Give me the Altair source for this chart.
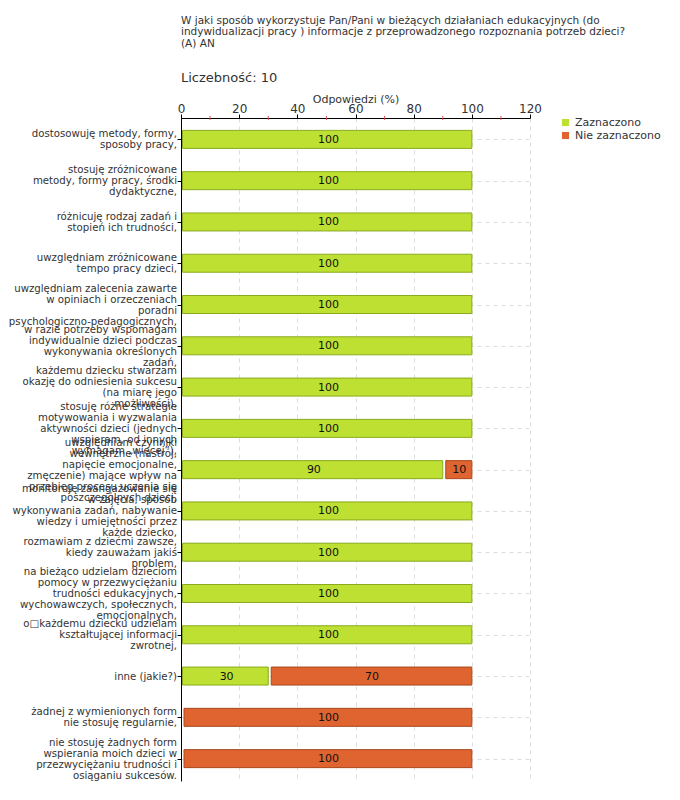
import altair as alt
import pandas as pd

categories = [
    "dostosowuję metody, formy,|sposoby pracy,",
    "stosuję zróżnicowane|metody, formy pracy, środki|dydaktyczne,",
    "różnicuję rodzaj zadań i|stopień ich trudności,",
    "uwzględniam zróżnicowane|tempo pracy dzieci,",
    "uwzględniam zalecenia zawarte|w opiniach i orzeczeniach|poradni|psychologiczno-pedagogicznych,",
    "w razie potrzeby wspomagam|indywidualnie dzieci podczas|wykonywania określonych|zadań,",
    "każdemu dziecku stwarzam|okazję do odniesienia sukcesu|(na miarę jego|możliwości),",
    "stosuję różne strategie|motywowania i wyzwalania|aktywności dzieci (jednych|wspieram, od innych|wymagam „więcej”),",
    "uwzględniam czynniki|wewnętrzne (nastrój,|napięcie emocjonalne,|zmęczenie) mające wpływ na|przebieg procesu uczenia się|poszczególnych dzieci,",
    "monitoruję zaangażowanie się|w zajęcia, sposób|wykonywania zadań, nabywanie|wiedzy i umiejętności przez|każde dziecko,",
    "rozmawiam z dziećmi zawsze,|kiedy zauważam jakiś|problem,",
    "na bieżąco udzielam dzieciom|pomocy w przezwyciężaniu|trudności edukacyjnych,|wychowawczych, społecznych,|emocjonalnych,",
    "o\u25a1każdemu dziecku udzielam|kształtującej informacji|zwrotnej,",
    "inne (jakie?)",
    "żadnej z wymienionych form|nie stosuję regularnie,",
    "nie stosuję żadnych form|wspierania moich dzieci w|przezwyciężaniu trudności i|osiąganiu sukcesów.",
]
zaznaczono = [100, 100, 100, 100, 100, 100, 100, 100, 90, 100, 100, 100, 100, 30, 0, 0]
nie_zaznaczono = [0, 0, 0, 0, 0, 0, 0, 0, 10, 0, 0, 0, 0, 70, 100, 100]
series = ["Zaznaczono", "Nie zaznaczono"]
colors = ["#bde032", "#e0642f"]
strokes = ["#8aab1e", "#a9481c"]
x_ticks = [0, 20, 40, 60, 80, 100, 120]
minor_ticks = [10, 30, 50, 70, 90, 110]

rows = []
for c, z, n in zip(categories, zaznaczono, nie_zaznaczono):
    if z > 0:
        rows.append({"cat": c, "series": series[0], "value": z, "start": 0, "end": z})
    if n > 0:
        rows.append({"cat": c, "series": series[1], "value": n, "start": z, "end": z + n})
df = pd.DataFrame(rows)
minor_df = pd.DataFrame({"m": minor_ticks})

line_rows = []
for c in categories:
    parts = c.split("|")
    k = len(parts)
    for i, p in enumerate(parts):
        line_rows.append({"cat": c, "line": p, "off": i - (k - 1) / 2})
lines_df = pd.DataFrame(line_rows)

LH = 11
xscale = alt.Scale(domain=[0, 120], nice=False, zero=True)
yscale = alt.Scale(domain=categories, paddingInner=0.54, paddingOuter=0.3)
cscale = alt.Scale(domain=series, range=colors)

base = alt.Chart(df)

y_enc = alt.Y("cat:N", sort=None, scale=yscale, axis=alt.Axis(
    title=None, labels=False, tickSize=4, tickColor="#000000",
    domainColor="#000000", grid=True, gridDash=[4, 4], gridColor="#dddddd"))

x_enc = alt.X("start:Q", scale=xscale, axis=alt.Axis(
    orient="top", values=x_ticks, title="Odpowiedzi (%)", titleFontWeight="normal",
    titleFontSize=11, titleColor="#333333", titleFont="DejaVu Sans", titlePadding=-2,
    labelFontSize=12, labelColor="#333333", labelFont="DejaVu Sans", tickSize=4,
    labelPadding=-1, tickColor="#000000", domainColor="#000000", grid=True,
    gridDash=[4, 4], gridColor="#dddddd", labelFlush=False))

legend = alt.Legend(title=None, orient="none", legendX=379, legendY=-1,
                    symbolType="square", symbolSize=50, labelFontSize=11,
                    labelColor="#333333", labelFont="DejaVu Sans", rowPadding=1,
                    symbolStrokeWidth=0)

green = base.transform_filter(alt.datum.series == series[0]).mark_bar(
    stroke=strokes[0], strokeWidth=1, xOffset=1.5
).encode(
    y=y_enc, x=x_enc, x2="end:Q",
    color=alt.Color("series:N", scale=cscale, legend=legend),
)
orange = base.transform_filter(alt.datum.series == series[1]).mark_bar(
    stroke=strokes[1], strokeWidth=1, xOffset=3
).encode(
    y=alt.Y("cat:N", sort=None, scale=yscale), x=alt.X("start:Q", scale=xscale),
    x2="end:Q",
    color=alt.Color("series:N", scale=cscale, legend=legend),
)
labels = base.transform_calculate(mid="(datum.start + datum.end) / 2").mark_text(
    fontSize=11, font="DejaVu Sans", color="#111111", baseline="middle", dx=2
).encode(
    y=alt.Y("cat:N", sort=None, scale=yscale), x=alt.X("mid:Q", scale=xscale),
    text="value:Q",
)
minor = alt.Chart(minor_df).mark_rule(color="#e05050", strokeWidth=1).encode(
    x=alt.X("m:Q", scale=xscale), y=alt.value(-2), y2=alt.value(2)
)
cat_labels = alt.Chart(lines_df).mark_text(
    align="right", baseline="middle", fontSize=10.2, font="DejaVu Sans",
    color="#333333", dy=9.5
).encode(
    y=alt.Y("cat:N", sort=None, scale=yscale),
    yOffset=alt.YOffset("off:Q", scale=alt.Scale(domain=[-1, 1], range=[-LH, LH])),
    x=alt.value(-4),
    text="line:N",
)

chart = alt.layer(green, orange, labels, minor, cat_labels).properties(
    width=349, height=663,
    autosize=alt.AutoSizeParams(type="none"),
    padding={"left": 173, "top": 110, "right": 142, "bottom": 5},
    title=alt.TitleParams(
        text=["W jaki sposób wykorzystuje Pan/Pani w bieżących działaniach edukacyjnych (do",
              "indywidualizacji pracy ) informacje z przeprowadzonego rozpoznania potrzeb dzieci?",
              "(A) AN"],
        subtitle="Liczebność:  10",
        anchor="start", fontSize=10.5, fontWeight="normal", color="#333333",
        font="DejaVu Sans", lineHeight=11.5, subtitleFontSize=13,
        subtitleColor="#333333", subtitleFont="DejaVu Sans", subtitlePadding=23,
        offset=8, frame="group"),
).configure_view(stroke=None)

chart.save("out.html", embed_options={"renderer": "svg", "actions": False})
